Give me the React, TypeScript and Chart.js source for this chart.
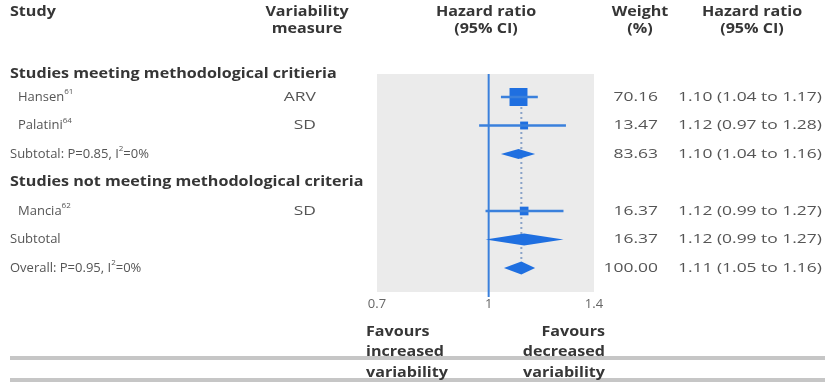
import React, { useEffect, useRef } from 'react';
import { Chart, registerables } from 'chart.js';

Chart.register(...registerables);

// ---------- data ----------
const studyNames = ['Hansen^{61}', 'Palatini^{64}', 'Mancia^{62}'];
const studyMeasures = ['ARV', 'SD', 'SD'];
const studyRows = [1, 2, 5];
const studyHR = [1.1, 1.12, 1.12];
const studyLo = [1.04, 0.97, 0.99];
const studyHi = [1.17, 1.28, 1.27];
const studyWeight = [70.16, 13.47, 16.37];

const pooledLabels = ['Subtotal: P=0.85, I^{2}=0%', 'Subtotal', 'Overall: P=0.95, I^{2}=0%'];
const pooledRows = [3, 6, 7];
const pooledHR = [1.1, 1.12, 1.11];
const pooledLo = [1.04, 0.99, 1.05];
const pooledHi = [1.16, 1.27, 1.16];
const pooledWeight = [83.63, 16.37, 100.0];

const groupHeaders = ['Studies meeting methodological critieria', 'Studies not meeting methodological criteria'];
const groupRows = [0.2, 4.0];

const tickValues = [0.7, 1, 1.4];
const tickLabels = ['0.7', '1', '1.4'];
const nullValue = 1;

const headerStudy = 'Study';
const headerMeasure = ['Variability', 'measure'];
const headerHR = ['Hazard ratio', '(95% CI)'];
const headerWeight = ['Weight', '(%)'];
const favoursLeft = ['Favours', 'increased', 'variability'];
const favoursRight = ['Favours', 'decreased', 'variability'];

// ---------- style ----------
const FONT = '"Open Sans", "Noto Sans", sans-serif';
const BLUE = '#1f6fe0';
const LINE_BLUE = '#3a80dc';
const TEXT = '#555555';
const BOLD_TEXT = '#363636';
type F = { size: number; sx: number; bold: boolean };
const NARROW: F = { size: 13, sx: 1.0, bold: false };
const WIDE: F = { size: 13, sx: 1.34, bold: false };
const BOLDF: F = { size: 14, sx: 1.15, bold: true };
const diamondHalf = [5, 6, 6.5];

type Seg = { t: string; sup: boolean };
function parse(text: string): Seg[] {
  const out: Seg[] = [];
  const re = /\^\{([^}]*)\}/g;
  let last = 0;
  let m: RegExpExecArray | null;
  while ((m = re.exec(text))) {
    if (m.index > last) out.push({ t: text.slice(last, m.index), sup: false });
    out.push({ t: m[1], sup: true });
    last = m.index + m[0].length;
  }
  if (last < text.length) out.push({ t: text.slice(last), sup: false });
  return out;
}

function drawText(
  ctx: CanvasRenderingContext2D,
  text: string,
  x: number,
  y: number,
  align: 'left' | 'right' | 'center',
  f: F
) {
  const segs = parse(text);
  const fontFor = (s: Seg) => `${f.bold ? 'bold ' : ''}${s.sup ? Math.round(f.size * 0.62) : f.size}px ${FONT}`;
  const widths = segs.map((s) => {
    ctx.font = fontFor(s);
    return ctx.measureText(s.t).width;
  });
  const total = widths.reduce((a, b) => a + b, 0) * f.sx;
  const left = align === 'left' ? x : align === 'right' ? x - total : x - total / 2;
  ctx.save();
  ctx.translate(left, y);
  ctx.scale(f.sx, 1);
  ctx.fillStyle = f.bold ? BOLD_TEXT : TEXT;
  ctx.textBaseline = 'middle';
  ctx.textAlign = 'left';
  let cx = 0;
  segs.forEach((s, i) => {
    ctx.font = fontFor(s);
    ctx.fillText(s.t, cx, s.sup ? -f.size * 0.38 : 0);
    cx += widths[i];
  });
  ctx.restore();
}

const ciText = (hr: number, lo: number, hi: number) =>
  `${hr.toFixed(2)} (${lo.toFixed(2)} to ${hi.toFixed(2)})`;

const forestPlugin = {
  id: 'forest',
  beforeDatasetsDraw(chart: any) {
    const { ctx, chartArea: a, scales } = chart;
    const x = scales.x;
    const y = scales.y;
    ctx.save();
    ctx.fillStyle = '#ebebeb';
    ctx.fillRect(a.left, a.top, a.right - a.left, a.bottom - a.top);
    // dotted line at overall estimate
    const xo = x.getPixelForValue(pooledHR[2]);
    ctx.strokeStyle = '#8aa3c8';
    ctx.lineWidth = 2;
    ctx.setLineDash([2, 3]);
    ctx.beginPath();
    ctx.moveTo(xo, y.getPixelForValue(studyRows[0]));
    ctx.lineTo(xo, y.getPixelForValue(pooledRows[2]));
    ctx.stroke();
    ctx.setLineDash([]);
    // null line
    const x1 = x.getPixelForValue(nullValue);
    ctx.strokeStyle = LINE_BLUE;
    ctx.lineWidth = 2;
    ctx.beginPath();
    ctx.moveTo(x1, a.top);
    ctx.lineTo(x1, a.bottom + 5);
    ctx.stroke();
    ctx.restore();
  },
  afterDatasetsDraw(chart: any) {
    const { ctx, scales } = chart;
    const x = scales.x;
    const y = scales.y;
    ctx.save();
    ctx.fillStyle = BLUE;
    pooledRows.forEach((r, i) => {
      const py = y.getPixelForValue(r);
      const h = diamondHalf[i];
      ctx.beginPath();
      ctx.moveTo(x.getPixelForValue(pooledLo[i]), py);
      ctx.lineTo(x.getPixelForValue(pooledHR[i]), py - h);
      ctx.lineTo(x.getPixelForValue(pooledHi[i]), py);
      ctx.lineTo(x.getPixelForValue(pooledHR[i]), py + h);
      ctx.closePath();
      ctx.fill();
    });
    ctx.restore();
  },
  afterDraw(chart: any) {
    const { ctx, scales, width } = chart;
    const y = scales.y;
    ctx.save();
    // rules at bottom
    ctx.fillStyle = '#c6c6c6';
    ctx.fillRect(10, 356, width - 10, 4);
    ctx.fillRect(10, 378, width - 10, 4);

    // headers
    drawText(ctx, headerStudy, 10, 12, 'left', BOLDF);
    headerMeasure.forEach((t, i) => drawText(ctx, t, 307, 12 + i * 17, 'center', BOLDF));
    headerHR.forEach((t, i) => drawText(ctx, t, 486, 12 + i * 17, 'center', BOLDF));
    headerWeight.forEach((t, i) => drawText(ctx, t, 640, 12 + i * 17, 'center', BOLDF));
    headerHR.forEach((t, i) => drawText(ctx, t, 752, 12 + i * 17, 'center', BOLDF));

    groupHeaders.forEach((t, i) => drawText(ctx, t, 10, y.getPixelForValue(groupRows[i]), 'left', BOLDF));

    studyNames.forEach((t, i) => {
      const py = y.getPixelForValue(studyRows[i]);
      drawText(ctx, t, 18, py, 'left', NARROW);
      drawText(ctx, studyMeasures[i], 316, py, 'right', WIDE);
      drawText(ctx, studyWeight[i].toFixed(2), 658, py, 'right', WIDE);
      drawText(ctx, ciText(studyHR[i], studyLo[i], studyHi[i]), 678, py, 'left', WIDE);
    });
    pooledLabels.forEach((t, i) => {
      const py = y.getPixelForValue(pooledRows[i]);
      drawText(ctx, t, 10, py, 'left', NARROW);
      drawText(ctx, pooledWeight[i].toFixed(2), 658, py, 'right', WIDE);
      drawText(ctx, ciText(pooledHR[i], pooledLo[i], pooledHi[i]), 678, py, 'left', WIDE);
    });

    favoursLeft.forEach((t, i) => drawText(ctx, t, 366, 332 + i * 20.5, 'left', BOLDF));
    favoursRight.forEach((t, i) => drawText(ctx, t, 605, 332 + i * 20.5, 'right', BOLDF));
    ctx.restore();
  },
};

export default function App() {
  const ref = useRef<HTMLCanvasElement | null>(null);
  useEffect(() => {
    if (!ref.current) return;
    const chart = new Chart(ref.current, {
      type: 'scatter',
      data: {
        datasets: [
          ...studyNames.map((_, i) => ({
            label: 'ci' + i,
            data: [
              { x: studyLo[i], y: studyRows[i] },
              { x: studyHi[i], y: studyRows[i] },
            ],
            showLine: true,
            borderColor: LINE_BLUE,
            borderWidth: 2.5,
            pointRadius: 0,
          })),
          {
            label: 'studies',
            data: studyNames.map((_, i) => ({ x: studyHR[i], y: studyRows[i] })),
            pointStyle: 'rect',
            pointRadius: studyWeight.map((w) => 12.7 * Math.sqrt(w / studyWeight[0])),
            backgroundColor: BLUE,
            borderWidth: 0,
          },
        ],
      },
      options: {
        animation: false,
        responsive: false,
        devicePixelRatio: 1,
        layout: { padding: { left: 377, right: 231, top: 74, bottom: 63 } },
        plugins: { legend: { display: false }, tooltip: { enabled: false } },
        scales: {
          x: {
            type: 'logarithmic',
            min: 0.7,
            max: 1.4,
            afterBuildTicks: (axis: any) => {
              axis.ticks = tickValues.map((v) => ({ value: v }));
            },
            afterFit: (axis: any) => {
              axis.height = 30;
            },
            ticks: {
              callback: (_v: any, i: number) => tickLabels[i],
              autoSkip: false,
              maxRotation: 0,
              padding: 4,
              color: '#666666',
              font: { family: FONT, size: 13 },
            },
            grid: { display: false, drawTicks: false },
            border: { display: false },
          },
          y: {
            type: 'linear',
            min: 0.193,
            max: 7.842,
            reverse: true,
            display: false,
          },
        },
      },
      plugins: [forestPlugin],
    } as any);
    return () => chart.destroy();
  }, []);
  return (
    <div style={{ position: 'absolute', left: 0, top: 0, width: 825, height: 385 }}>
      <canvas ref={ref} width={825} height={385} style={{ width: 825, height: 385 }} />
    </div>
  );
}
